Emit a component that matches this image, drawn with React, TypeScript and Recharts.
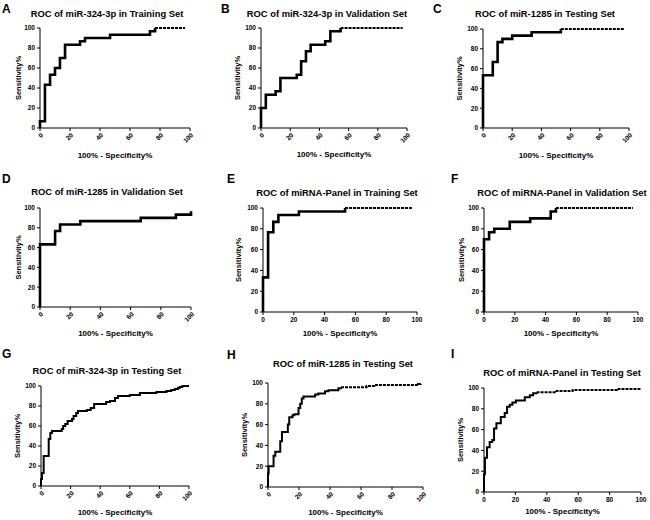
import React from 'react';
import { LineChart, Line, XAxis, YAxis, Label } from 'recharts';

const AXIS_TICKS = [0, 20, 40, 60, 80, 100];
const FONT = '"Liberation Sans", Arial, sans-serif';

// 100% - specificity (x) and sensitivity (y), one pair per step corner
const fprA = [0, 0, 3.3, 6.7, 10, 13.3, 16.7, 26.7, 30, 46.7, 73.3, 76.7, 96.7];
const sensA = [0, 6.7, 43.3, 53.3, 60, 70, 83.3, 86.7, 90, 93.3, 96.7, 100, 100];

const fprB = [0, 0, 3.3, 10, 13.3, 24.5, 27.5, 30.8, 34, 44, 47.5, 54.5, 97];
const sensB = [0, 20, 33.3, 36.7, 50, 53.3, 66.7, 76.7, 83.3, 86.7, 96.7, 100, 100];

const fprC = [0, 0, 6.7, 10, 13.3, 20, 33.3, 53.3, 96.7];
const sensC = [0, 53.3, 66.7, 86.7, 90, 93.3, 96.7, 100, 100];

const fprD = [0, 0, 10, 13.3, 26.7, 66.7, 90, 100];
const sensD = [0, 63.3, 76.7, 83.3, 86.7, 90, 93.3, 96.7];

const fprE = [0, 0, 3.3, 6.7, 10, 23.3, 53.3, 96.7];
const sensE = [0, 33.3, 76.7, 86.7, 93.3, 96.7, 100, 100];

const fprF = [0, 0, 3.3, 6.7, 16.7, 30, 43.3, 46.7, 96.7];
const sensF = [0, 70, 76.7, 80, 86.7, 90, 96.7, 100, 100];

const fprG = [0, 0, 0.7, 1.8, 5.2, 6.3, 7.4, 14, 15, 16.4, 18, 21, 22, 23.8, 25, 31, 33.6, 35.9, 44, 46.6, 50, 52, 60, 66.8, 78, 84.8, 88, 90.4, 92.6, 93.7, 95.5, 100];
const sensG = [0, 7, 13, 30, 47, 53, 55, 57, 60, 62, 65, 67, 70, 73, 75, 76, 78, 82, 84, 85, 88, 90, 91, 93, 94, 95, 96, 97, 98, 99, 100, 100];

const fprH = [0, 0, 0.4, 3.6, 4.7, 7.9, 9, 12.8, 13.7, 15.8, 17, 19.7, 20.8, 21.8, 22.9, 30.4, 32.5, 36.8, 39, 45.4, 47.1, 63.6, 68.5, 96.8, 98.5];
const sensH = [0, 13, 20, 30, 34, 44, 53, 60, 67, 69, 70, 76, 80, 85, 87, 89, 90, 92, 93, 95, 96, 97, 98, 99, 100];

const fprI = [0, 0, 0.6, 1.9, 3.6, 5.3, 6.4, 7.9, 10.7, 13.2, 14.7, 16.4, 18.1, 20.3, 26, 29.2, 31.3, 33.5, 45, 56.5, 84.6, 100];
const sensI = [0, 17, 33, 43, 48, 50, 61, 66, 72, 76, 82, 84, 86, 88, 91, 93, 95, 96, 97, 98, 99, 99];

const panels = [
  { letter: 'A', title: 'ROC of miR-324-3p in Training Set', fpr: fprA, sens: sensA, dashFrom: 76.7,
    box: [40, 28, 190, 128], rotate: true, lw: 2.6, letterPos: [2, 2], titleC: [107, 14], xTitleY: 155, yTitleX: 18 },
  { letter: 'B', title: 'ROC of miR-324-3p in Validation Set', fpr: fprB, sens: sensB, dashFrom: 54.5,
    box: [261, 28, 407, 128], rotate: true, lw: 2.6, letterPos: [221, 2], titleC: [327, 14], xTitleY: 154, yTitleX: 237 },
  { letter: 'C', title: 'ROC of miR-1285 in Testing Set', fpr: fprC, sens: sensC, dashFrom: 53.3,
    box: [483, 29, 629, 128], rotate: true, lw: 2.6, letterPos: [433, 2], titleC: [545, 14], xTitleY: 155, yTitleX: 459 },
  { letter: 'D', title: 'ROC of miR-1285 in Validation Set', fpr: fprD, sens: sensD, dashFrom: null,
    box: [40, 208, 191, 307], rotate: true, lw: 2.6, letterPos: [2, 172], titleC: [107, 192], xTitleY: 333, yTitleX: 18 },
  { letter: 'E', title: 'ROC of miRNA-Panel in Training Set', fpr: fprE, sens: sensE, dashFrom: 53.3,
    box: [263, 208, 417, 312], rotate: false, lw: 2.6, letterPos: [227, 172], titleC: [337, 193], xTitleY: 333, yTitleX: 238 },
  { letter: 'F', title: 'ROC of miRNA-Panel in Validation Set', fpr: fprF, sens: sensF, dashFrom: 46.7,
    box: [484, 208, 638, 312], rotate: false, lw: 2.6, letterPos: [451, 172], titleC: [562, 193], xTitleY: 333, yTitleX: 461 },
  { letter: 'G', title: 'ROC of miR-324-3p in Testing Set', fpr: fprG, sens: sensG, dashFrom: null,
    box: [41, 386, 189, 486], rotate: true, lw: 2, letterPos: [2, 347], titleC: [107, 371], xTitleY: 512, yTitleX: 17 },
  { letter: 'H', title: 'ROC of miR-1285 in Testing Set', fpr: fprH, sens: sensH, dashFrom: 47.1,
    box: [268, 383, 423, 487], rotate: true, lw: 2, letterPos: [227, 348], titleC: [343, 364], xTitleY: 512, yTitleX: 244 },
  { letter: 'I', title: 'ROC of miRNA-Panel in Testing Set', fpr: fprI, sens: sensI, dashFrom: 33.5,
    box: [484, 388, 641, 492], rotate: false, lw: 2, letterPos: [451, 347], titleC: [562, 373], xTitleY: 511, yTitleX: 460 },
];

const tickStyle = { fontSize: 6.5, fontWeight: 'bold', fill: '#000', fontFamily: FONT };

const RotatedTick = (props: any) => {
  const { x, y, payload } = props;
  const px = x + 2;
  const py = y + 1;
  return (
    <text x={px} y={py} dy="0.35em" textAnchor="end" transform={`rotate(-45, ${px}, ${py})`} {...tickStyle}>
      {payload.value}
    </text>
  );
};

function RocPanel({ p }: { p: any }) {
  const [left, top, right, bottom] = p.box;
  const pts = p.fpr.map((x: number, i: number) => ({ x, y: p.sens[i] }));
  const solid = p.dashFrom == null ? pts : pts.filter((d: any) => d.x <= p.dashFrom);
  const tail = p.dashFrom == null ? [] : pts.filter((d: any) => d.x >= p.dashFrom);

  // leave room under the x title for descenders
  const xAxisH = p.xTitleY + 7 - bottom;
  const width = right - left + 50;
  const height = 10 + (bottom - top) + xAxisH;

  return (
    <>
      <div style={{ position: 'absolute', left: p.letterPos[0], top: p.letterPos[1], fontFamily: FONT, fontWeight: 'bold', fontSize: 12, lineHeight: '14px' }}>
        {p.letter}
      </div>
      <div style={{ position: 'absolute', left: p.titleC[0] - 100, top: p.titleC[1] - 6, width: 200, textAlign: 'center', fontFamily: FONT, fontWeight: 'bold', fontSize: 9.4, lineHeight: '12px', whiteSpace: 'nowrap' }}>
        {p.title}
      </div>
      <div style={{ position: 'absolute', left: left - 40, top: top - 10 }}>
        <LineChart width={width} height={height} margin={{ top: 10, right: 10, bottom: 0, left: 0 }}>
          <XAxis
            type="number"
            dataKey="x"
            domain={[0, 100]}
            ticks={AXIS_TICKS}
            interval={0}
            height={xAxisH}
            axisLine={{ stroke: '#000', strokeWidth: 1 }}
            tickLine={{ stroke: '#000', strokeWidth: 1 }}
            tickSize={3}
            tick={p.rotate ? RotatedTick : tickStyle}
          >
            <Label value="100% - Specificity%" position="insideBottom" offset={4} fontSize={8} fontWeight="bold" fill="#000" fontFamily={FONT} />
          </XAxis>
          <YAxis
            type="number"
            domain={[0, 100]}
            ticks={AXIS_TICKS}
            interval={0}
            width={40}
            axisLine={{ stroke: '#000', strokeWidth: 1 }}
            tickLine={{ stroke: '#000', strokeWidth: 1 }}
            tickSize={3}
            tickMargin={2}
            tick={tickStyle}
          >
            <Label value="Sensitivity%" angle={-90} position="insideLeft" offset={p.yTitleX - (left - 40)} fontSize={7.5} fontWeight="bold" fill="#000" fontFamily={FONT} style={{ textAnchor: 'middle' }} />
          </YAxis>
          <Line data={solid} dataKey="y" type="stepAfter" stroke="#000" strokeWidth={p.lw} dot={false} isAnimationActive={false} />
          {tail.length > 0 && (
            <Line data={tail} dataKey="y" type="stepAfter" stroke="#000" strokeWidth={2} strokeDasharray="3 1" dot={false} isAnimationActive={false} />
          )}
        </LineChart>
      </div>
    </>
  );
}

export default function App() {
  return (
    <div style={{ position: 'relative', width: 650, height: 520, background: '#fff', overflow: 'hidden' }}>
      <style>{'body{margin:0}'}</style>
      {panels.map((p) => (
        <RocPanel key={p.letter} p={p} />
      ))}
    </div>
  );
}
